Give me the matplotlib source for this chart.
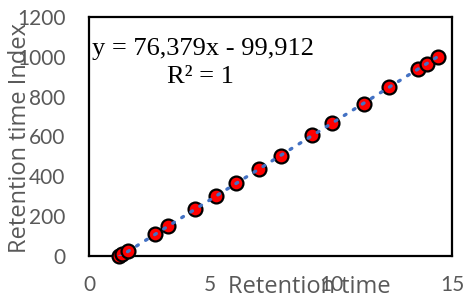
import matplotlib
matplotlib.use("Agg")
import matplotlib.pyplot as plt
import numpy as np

# Data
retention_time = [1.22, 1.38, 1.60, 2.73, 3.27, 4.38, 5.23, 6.08, 7.03, 7.95,
                  9.20, 10.03, 11.36, 12.40, 13.60, 13.97, 14.43]
retention_index = [0, 10, 25, 112, 150, 236, 300, 366, 437, 502,
                   608, 668, 763, 848, 939, 964, 999]
slope = 76.379
intercept = -99.912
equation_text = "y = 76,379x - 99,912"
r2_text = "R² = 1"
x_ticks = [0, 5, 10, 15]
y_ticks = [0, 200, 400, 600, 800, 1000, 1200]

gray = "#595959"
fig = plt.figure(figsize=(4.64, 2.96), dpi=100)
ax = fig.add_axes([89/464, 1 - 256/296, (452-89)/464, (256-17)/296])

xs = np.array([min(retention_time), max(retention_time)])
ax.plot(xs, slope * xs + intercept, linestyle=(0, (0.6, 2.6)), dash_capstyle="round",
        color="#4472C4", lw=2.4, zorder=4)
ax.plot(retention_time, retention_index, "o", ms=10, mfc="#FF0000", mec="black",
        mew=1.6, zorder=3, clip_on=False)
ax.set_xlim(0, 15)
ax.set_ylim(0, 1200)
ax.set_xticks(x_ticks)
ax.set_yticks(y_ticks)
for s in ax.spines.values():
    s.set_linewidth(1.6)
    s.set_color("black")
ax.tick_params(length=0, colors=gray, labelsize=15)
ax.tick_params(axis="y", pad=17)
ax.tick_params(axis="x", pad=14)
for lab in ax.get_xticklabels() + ax.get_yticklabels():
    lab.set_family("Lato")

ax.text(0.315, 0.841, equation_text, transform=ax.transAxes, ha="center",
        va="baseline", fontsize=19, family="Liberation Serif", color="black")
ax.text(0.306, 0.724, r2_text, transform=ax.transAxes, ha="center",
        va="baseline", fontsize=19, family="Liberation Serif", color="black")

fig.text(309/464, 1 - 293/296, "Retention time", ha="center", va="baseline",
         fontsize=17, family="Open Sans", color=gray)
fig.text(20/464, 1 - 138/296, "Retention time Index", ha="center", va="center",
         rotation=90, fontsize=17, family="Open Sans", color=gray)

fig.savefig("out.png", dpi=100)
